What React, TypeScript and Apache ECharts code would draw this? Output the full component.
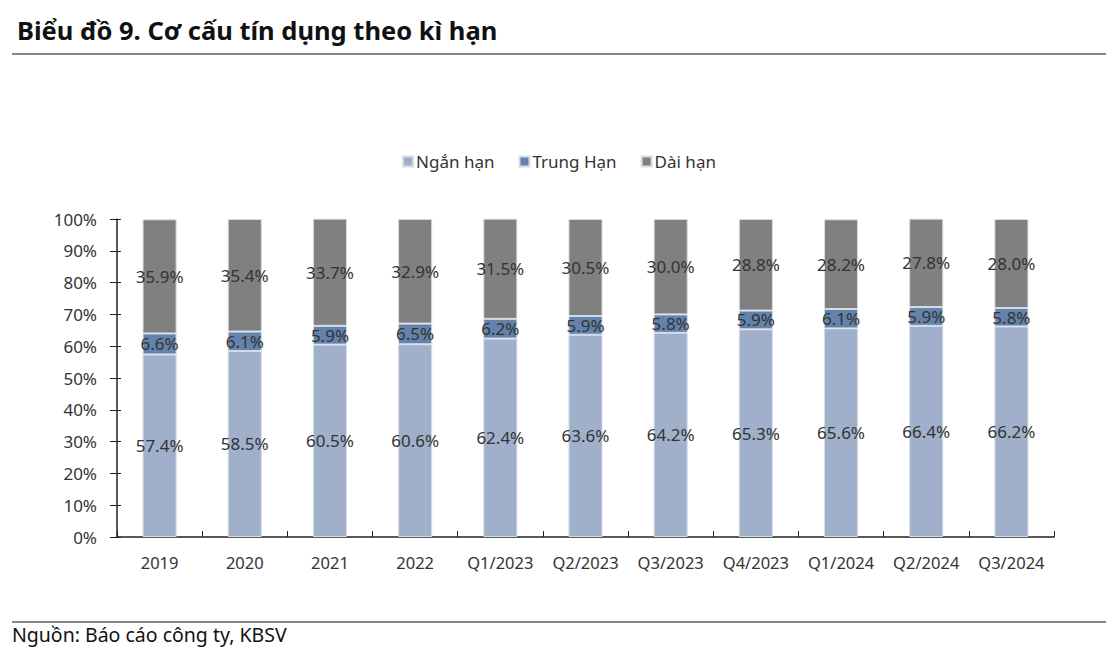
import React, { useEffect, useRef } from "react";
import * as echarts from "echarts";

const categories = ["2019", "2020", "2021", "2022", "Q1/2023", "Q2/2023", "Q3/2023", "Q4/2023", "Q1/2024", "Q2/2024", "Q3/2024"];
const shortTerm = [57.4, 58.5, 60.5, 60.6, 62.4, 63.6, 64.2, 65.3, 65.6, 66.4, 66.2];
const mediumTerm = [6.6, 6.1, 5.9, 6.5, 6.2, 5.9, 5.8, 5.9, 6.1, 5.9, 5.8];
const longTerm = [35.9, 35.4, 33.7, 32.9, 31.5, 30.5, 30.0, 28.8, 28.2, 27.8, 28.0];
const seriesNames = ["Ngắn hạn", "Trung Hạn", "Dài hạn"];
const seriesColors = ["#A0B0CB", "#6483AC", "#808080"];

const FONT = "'Noto Sans', sans-serif";
const TEXT = "#333333";

export default function App() {
  const ref = useRef<HTMLDivElement>(null);

  useEffect(() => {
    if (!ref.current) return;
    const chart = echarts.init(ref.current, undefined, { renderer: "svg" });
    const values = [shortTerm, mediumTerm, longTerm];

    chart.setOption({
      animation: false,
      backgroundColor: "#ffffff",
      textStyle: { fontFamily: FONT },
      title: {
        text: "Biểu đồ 9. Cơ cấu tín dụng theo kì hạn",
        left: 12,
        top: 12,
        textStyle: { fontFamily: FONT, fontSize: 25.5, fontWeight: "bold", color: "#111111" },
      },
      legend: {
        data: seriesNames,
        top: 148,
        left: "center",
        itemWidth: 10,
        itemHeight: 10,
        itemGap: 24,
        icon: "rect",
        textStyle: { fontFamily: FONT, fontSize: 17, color: TEXT, padding: [0, 0, 0, -2] },
      },
      grid: { left: 117, right: 64, top: 219, bottom: 121 },
      xAxis: {
        type: "category",
        data: categories,
        axisLine: { lineStyle: { color: "#222222", width: 1.5 } },
        axisTick: { show: true, inside: true, length: 6, interval: 0, lineStyle: { color: "#222222" } },
        axisLabel: { fontFamily: FONT, fontSize: 16.5, color: TEXT, margin: 17, interval: 0 },
      },
      yAxis: [
        {
          type: "value",
          min: 0,
          max: 100,
          interval: 10,
          axisLine: { show: true, lineStyle: { color: "#222222", width: 1.5 } },
          axisTick: { show: true, length: 7, lineStyle: { color: "#222222" } },
          splitLine: { show: false },
          axisLabel: { fontFamily: FONT, fontSize: 17, color: TEXT, margin: 20, formatter: "{value}%" },
        },
        {
          type: "value",
          min: 0,
          max: 100,
          interval: 10,
          position: "left",
          axisLine: { show: false },
          axisTick: { show: true, inside: true, length: 4, lineStyle: { color: "#222222" } },
          splitLine: { show: false },
          axisLabel: { show: false },
        },
      ],
      series: seriesNames.map((name, i) => ({
        name,
        type: "bar",
        stack: "total",
        yAxisIndex: 0,
        data: values[i],
        barCategoryGap: "60%",
        itemStyle: { color: seriesColors[i], borderColor: "#D6DCE5", borderWidth: 1 },
        label: {
          show: true,
          position: "inside",
          fontFamily: FONT,
          fontSize: 17,
          color: TEXT,
          formatter: (p: any) => `${p.value.toFixed(1)}%`,
        },
      })),
      graphic: [
        { type: "line", shape: { x1: 12, y1: 54, x2: 1106, y2: 54 }, style: { stroke: "#111111", lineWidth: 1.2 } },
        { type: "line", shape: { x1: 12, y1: 622, x2: 1106, y2: 622 }, style: { stroke: "#111111", lineWidth: 1.2 } },
        {
          type: "text",
          left: 12,
          top: 624,
          style: { text: "Nguồn: Báo cáo công ty, KBSV", fontFamily: FONT, fontSize: 19.5, fill: "#111111" },
        },
      ],
    });

    return () => chart.dispose();
  }, []);

  return <div ref={ref} style={{ position: "absolute", left: 0, top: 0, width: 1118, height: 658 }} />;
}
